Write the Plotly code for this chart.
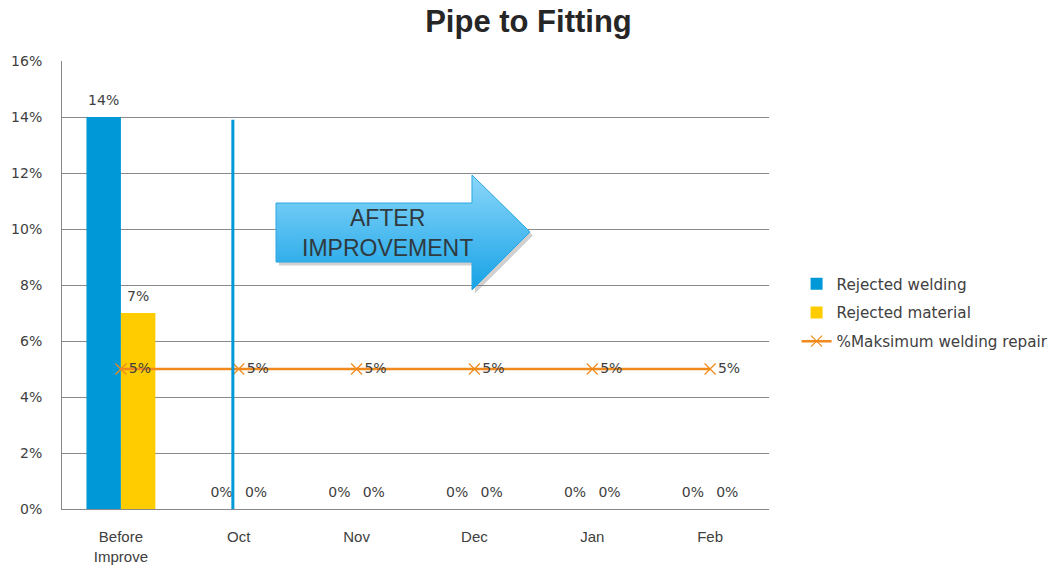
import plotly.graph_objects as go

categories = ["Before<br>Improve", "Oct", "Nov", "Dec", "Jan", "Feb"]
rejected_welding = [0.14, 0, 0, 0, 0, 0]
rejected_material = [0.07, 0, 0, 0, 0, 0]
max_welding_repair = [0.05, 0.05, 0.05, 0.05, 0.05, 0.05]

BLUE = "#0098D6"
YELLOW = "#FFCC00"
ORANGE = "#F08A1C"
TXT = "#404040"
FONT = "Liberation Sans, Arial, sans-serif"
WIDE = "DejaVu Sans, Verdana, sans-serif"

BAR_LABEL = "<span style='font-size:14px'>%{y:.0%}</span><br> "

fig = go.Figure()
fig.add_trace(go.Bar(
    x=categories, y=rejected_welding, name="Rejected welding",
    marker=dict(color=BLUE, line=dict(width=0)),
    texttemplate=BAR_LABEL, textposition="outside",
    textfont=dict(family=WIDE, size=6, color=TXT), cliponaxis=False,
    legendgroup="a",
))
fig.add_trace(go.Bar(
    x=categories, y=rejected_material, name="Rejected material",
    marker=dict(color=YELLOW, line=dict(width=0)),
    texttemplate=BAR_LABEL, textposition="outside",
    textfont=dict(family=WIDE, size=6, color=TXT), cliponaxis=False,
    legendgroup="b",
))
fig.add_trace(go.Scatter(
    x=categories, y=max_welding_repair, name="%Maksimum welding repair",
    mode="lines+markers+text",
    line=dict(color=ORANGE, width=2.5),
    marker=dict(symbol="x-thin-open", size=11, color=ORANGE, line=dict(color=ORANGE, width=1.2)),
    text=[f"{v:.0%}" for v in max_welding_repair], textposition="middle right",
    textfont=dict(family=WIDE, size=14, color=TXT), cliponaxis=False,
    legendgroup="c",
))

# "AFTER IMPROVEMENT" arrow (decoration, paper coordinates via overlay axes)
arrow_x = [0.3027, 0.5799, 0.5799, 0.6620, 0.5799, 0.5799, 0.3027, 0.3027]
arrow_y = [0.6830, 0.6830, 0.7455, 0.6183, 0.4888, 0.5513, 0.5513, 0.6830]
fig.add_trace(go.Scatter(
    x=[v + 0.004 for v in arrow_x], y=[v - 0.008 for v in arrow_y],
    xaxis="x2", yaxis="y2", mode="lines", fill="toself",
    fillcolor="rgba(120,120,120,0.35)", line=dict(width=0),
    showlegend=False, hoverinfo="skip",
))
fig.add_trace(go.Scatter(
    x=arrow_x, y=arrow_y, xaxis="x2", yaxis="y2", mode="lines", fill="toself",
    fillgradient=dict(type="vertical", colorscale=[[0, "#16A2E6"], [1, "#8BD7FA"]]),
    line=dict(color="#2AA6E0", width=1),
    showlegend=False, hoverinfo="skip",
))

fig.add_annotation(
    x=0.4597, y=0.615, xref="paper", yref="paper",
    text="AFTER<br>IMPROVEMENT", showarrow=False,
    font=dict(family=FONT, size=23, color="#2F3A40"),
)

# vertical separator line near Oct
fig.add_shape(type="line", x0=0.95, x1=0.95, y0=0, y1=0.139,
              xref="x", yref="y", line=dict(color=BLUE, width=3))

fig.update_layout(
    width=1057, height=569,
    margin=dict(l=62, r=288, t=61, b=60, autoexpand=False),
    paper_bgcolor="white", plot_bgcolor="white",
    font=dict(family=FONT, size=12, color=TXT),
    title=dict(text="<b>Pipe to Fitting</b>", x=0.5, xanchor="center",
               y=0.962, yanchor="middle",
               font=dict(family=FONT, size=31, color="#262626")),
    barmode="group", bargap=0.415, bargroupgap=0,
    showlegend=True,
    legend=dict(x=1.039, y=0.438, xanchor="left", yanchor="middle",
                font=dict(family=WIDE, size=15.2, color=TXT), tracegroupgap=6,
                bgcolor="rgba(0,0,0,0)"),
    xaxis=dict(showgrid=False, showline=True, linecolor="#888888", linewidth=1,
               ticks="", tickfont=dict(size=15, color=TXT), ticklabelstandoff=14,
               zeroline=False, automargin=False),
    yaxis=dict(range=[0, 0.16], dtick=0.02, tickformat=".0%",
               showgrid=True, gridcolor="#8A8A8A", gridwidth=1,
               showline=True, linecolor="#888888", linewidth=1,
               ticks="", tickfont=dict(family=WIDE, size=14, color=TXT), ticklabelstandoff=16,
               zeroline=False, automargin=False),
    xaxis2=dict(overlaying="x", range=[0, 1], visible=False, domain=[0, 1]),
    yaxis2=dict(overlaying="y", range=[0, 1], visible=False),
)

fig.write_html("out.html", config={"displayModeBar": False},
               post_script="document.body.style.margin='0px';")
